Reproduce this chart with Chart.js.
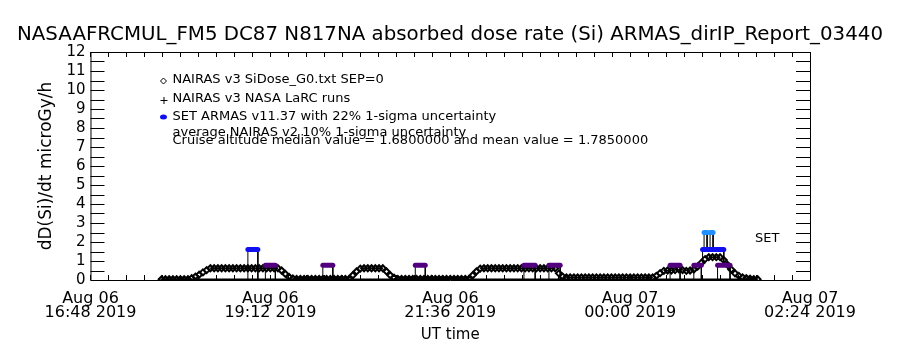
<!DOCTYPE html>
<html>
<head>
<meta charset="utf-8">
<script src="https://cdn.jsdelivr.net/npm/chart.js@4.4.1/dist/chart.umd.min.js"></script>
<style>
body { margin: 0; background: #fff; }
</style>
</head>
<body>
<canvas id="mychart" width="900" height="350"></canvas>
<script>
// x values are minutes after Aug 06 16:48 UT
let xTickValues = [0, 144, 288, 432, 576]
let xTickLabels = [
    ['Aug 06', '16:48 2019'],
    ['Aug 06', '19:12 2019'],
    ['Aug 06', '21:36 2019'],
    ['Aug 07', '00:00 2019'],
    ['Aug 07', '02:24 2019']
]
let yTickMax = 12

// NAIRAS v3 SiDose_G0 (one sample every 3 min starting at minute 57)
let nairasStart = 57
let nairasStep = 3
let nairasDose = [
    0.04, 0.04, 0.04, 0.04, 0.04, 0.04, 0.04, 0.04,
    0.10, 0.18, 0.28, 0.40, 0.52, 0.62,
    0.62, 0.62, 0.62, 0.62, 0.62, 0.62, 0.62, 0.62, 0.62, 0.62, 0.62, 0.62, 0.62, 0.62, 0.62, 0.62, 0.62, 0.62,
    0.50, 0.32, 0.16, 0.08,
    0.06, 0.06, 0.06, 0.06, 0.06, 0.06, 0.06, 0.06, 0.06, 0.06, 0.06, 0.06, 0.06, 0.06, 0.06,
    0.25, 0.45, 0.60,
    0.62, 0.62, 0.62, 0.62, 0.62, 0.62,
    0.45, 0.25, 0.12,
    0.06, 0.06, 0.06, 0.06, 0.06, 0.06, 0.06, 0.06, 0.06, 0.06, 0.06, 0.06, 0.06, 0.06, 0.06, 0.06, 0.06, 0.06, 0.06, 0.06,
    0.25, 0.45, 0.60,
    0.62, 0.62, 0.62, 0.62, 0.62, 0.62, 0.62, 0.62, 0.62, 0.62, 0.62, 0.62, 0.62, 0.62, 0.62, 0.62, 0.62, 0.62, 0.62, 0.62,
    0.35, 0.18,
    0.14, 0.14, 0.14, 0.14, 0.14, 0.14, 0.14, 0.14, 0.14, 0.14, 0.14, 0.14,
    0.14, 0.14, 0.14, 0.14, 0.14, 0.14, 0.14, 0.14, 0.14, 0.14, 0.14, 0.14,
    0.22, 0.36, 0.48,
    0.50, 0.50, 0.52, 0.56, 0.52, 0.48, 0.50,
    0.55, 0.70, 0.90, 1.10,
    1.20, 1.20, 1.20, 1.20,
    1.05, 0.80, 0.55, 0.35, 0.22,
    0.14, 0.10, 0.07, 0.05, 0.04
]

// NAIRAS v3 NASA LaRC runs
let larcTimes = [56, 534]
let larcDose = [0, 0]

// SET ARMAS v11.37 measurements: start / end minute, dose, and level the step comes up from
let setStart = [126, 140, 186, 260, 347, 367, 464, 483, 490, 491.2, 496, 502]
let setEnd = [134, 148, 194, 268, 356, 376, 472, 489, 507, 493.6, 498.4, 512]
let setDose = [1.61, 0.78, 0.78, 0.78, 0.78, 0.78, 0.78, 0.78, 1.61, 2.5, 2.5, 0.78]
let setFrom = [0, 0, 0, 0, 0, 0, 0, 0, 0.9, 1.61, 1.61, 0]

let titleText = 'NASAAFRCMUL_FM5 DC87 N817NA absorbed dose rate (Si) ARMAS_dirIP_Report_03440'
let legendLines = [
    'NAIRAS v3 SiDose_G0.txt SEP=0',
    'NAIRAS v3 NASA LaRC runs',
    'SET ARMAS v11.37 with 22% 1-sigma uncertainty',
    'average NAIRAS v2 10% 1-sigma uncertainty',
    'Cruise altitude median value = 1.6800000 and mean value = 1.7850000'
]

const FONT = 'DejaVu Sans'

function setColor(v) {
    if (v >= 2) return '#1e90ff'
    if (v >= 1) return '#1010f0'
    return '#52007f'
}

function build_datasets() {
    let sets = []
    let stepLine = []
    for (let i = 0; i < setDose.length; i++) {
        stepLine.push({x: setStart[i], y: setFrom[i]})
        stepLine.push({x: setStart[i], y: setDose[i]})
        stepLine.push({x: setEnd[i], y: setDose[i]})
        stepLine.push({x: setEnd[i], y: setFrom[i]})
        stepLine.push({x: setEnd[i], y: null})
        sets.push({
            data: [{x: setStart[i], y: setDose[i]}, {x: setEnd[i], y: setDose[i]}],
            showLine: true,
            borderColor: setColor(setDose[i]),
            borderWidth: 5,
            borderCapStyle: 'round',
            pointRadius: 0,
            order: 1
        })
    }
    sets.push({
        data: stepLine,
        showLine: true,
        spanGaps: false,
        borderColor: '#000',
        borderWidth: 1,
        pointRadius: 0,
        order: 2
    })
    sets.push({
        data: nairasDose.map((v, i) => ({x: nairasStart + i * nairasStep, y: v})),
        showLine: false,
        pointStyle: 'rectRot',
        pointRadius: 3,
        pointBackgroundColor: 'rgba(0,0,0,0)',
        pointBorderColor: '#000',
        pointBorderWidth: 2,
        order: 3
    })
    sets.push({
        data: larcTimes.map((t, i) => ({x: t, y: larcDose[i]})),
        showLine: true,
        borderColor: '#000',
        borderWidth: 3,
        pointRadius: 0,
        order: 4
    })
    return sets
}

// IDL style frame: box with inward ticks on all four sides, title and text legend
const idlFrame = {
    id: 'idlFrame',
    beforeDatasetsDraw(chart) {
        let ctx = chart.ctx
        let a = chart.chartArea
        let x = chart.scales.x
        let y = chart.scales.y
        ctx.save()
        ctx.strokeStyle = '#000'
        ctx.lineWidth = 1
        ctx.beginPath()
        ctx.rect(a.left + 0.5, a.top + 0.5, a.right - a.left, a.bottom - a.top)
        for (let v = 0; v <= yTickMax; v += 0.5) {
            let py = Math.round(y.getPixelForValue(v)) + 0.5
            ctx.moveTo(a.left, py); ctx.lineTo(a.left + 14, py)
            ctx.moveTo(a.right, py); ctx.lineTo(a.right - 14, py)
        }
        let step = (xTickValues[1] - xTickValues[0]) / 10
        for (let i = 0; i <= 40; i++) {
            let px = Math.round(x.getPixelForValue(i * step)) + 0.5
            ctx.moveTo(px, a.bottom); ctx.lineTo(px, a.bottom - 5)
            ctx.moveTo(px, a.top); ctx.lineTo(px, a.top + 5)
        }
        ctx.stroke()
        ctx.restore()
    },
    afterDraw(chart) {
        let ctx = chart.ctx
        let a = chart.chartArea
        ctx.save()
        ctx.fillStyle = '#000'
        ctx.textBaseline = 'middle'

        // title, centred on the canvas
        ctx.font = '20px "' + FONT + '"'
        ctx.textAlign = 'center'
        ctx.fillText(titleText, chart.width / 2, a.top - 17, 866)
        ctx.textAlign = 'left'

        let lx = a.left + 82
        ctx.font = '13px "' + FONT + '"'
        let ys = [a.top + 28, a.top + 47, a.top + 65, a.top + 81, a.top + 89]
        for (let i = 0; i < legendLines.length; i++) {
            ctx.fillText(legendLines[i], lx, ys[i])
        }
        // symbols
        let sx = a.left + 73
        ctx.strokeStyle = '#000'
        ctx.lineWidth = 1
        ctx.beginPath()
        ctx.moveTo(sx - 3, ys[0] + 1); ctx.lineTo(sx, ys[0] - 2); ctx.lineTo(sx + 3, ys[0] + 1); ctx.lineTo(sx, ys[0] + 4); ctx.closePath()
        ctx.moveTo(sx - 3, ys[1] + 1.5); ctx.lineTo(sx + 4, ys[1] + 1.5)
        ctx.moveTo(sx + 0.5, ys[1] - 2); ctx.lineTo(sx + 0.5, ys[1] + 5)
        ctx.stroke()
        ctx.fillStyle = '#1010f0'
        ctx.beginPath()
        ctx.ellipse(sx, ys[2], 3.5, 2.5, 0, 0, Math.PI * 2)
        ctx.fill()
        ctx.fillStyle = '#000'
        ctx.fillText('SET', a.right - 55, chart.scales.y.getPixelForValue(2.2))
        ctx.restore()
    }
}

function fun_chart() {
    let ctx = document.getElementById('mychart').getContext('2d')
    new Chart(ctx, {
        type: 'scatter',
        data: { datasets: build_datasets() },
        options: {
            responsive: false,
            animation: false,
            devicePixelRatio: 1,
            layout: { padding: { left: 36, right: 90, top: 52, bottom: 6 } },
            plugins: {
                legend: { display: false },
                tooltip: { enabled: false },
                title: { display: false }
            },
            scales: {
                x: {
                    type: 'linear',
                    min: xTickValues[0],
                    max: xTickValues[xTickValues.length - 1],
                    grid: { display: false, drawTicks: false },
                    border: { display: false },
                    afterBuildTicks: function(scale) {
                        scale.ticks = xTickValues.map(v => ({ value: v }))
                    },
                    ticks: {
                        autoSkip: false,
                        maxRotation: 0,
                        padding: 12,
                        color: '#000',
                        font: { family: FONT, size: 16, lineHeight: 0.875 },
                        callback: function(v) {
                            return xTickLabels[xTickValues.indexOf(v)]
                        }
                    },
                    title: {
                        display: true,
                        text: 'UT time',
                        color: '#000',
                        font: { family: FONT, size: 15, lineHeight: 1.2 },
                        padding: { top: -6, bottom: 0 }
                    }
                },
                y: {
                    min: 0,
                    max: yTickMax,
                    grid: { display: false, drawTicks: false },
                    border: { display: false },
                    ticks: {
                        stepSize: 1,
                        autoSkip: false,
                        padding: 5,
                        color: '#000',
                        font: { family: FONT, size: 15 }
                    },
                    title: {
                        display: true,
                        text: 'dD(Si)/dt microGy/h',
                        color: '#000',
                        font: { family: FONT, size: 17, lineHeight: 1.2 },
                        padding: { top: 0, bottom: 5 }
                    }
                }
            }
        },
        plugins: [idlFrame]
    })
}

document.addEventListener('DOMContentLoaded', function() {
    fun_chart()
})
</script>
</body>
</html>
